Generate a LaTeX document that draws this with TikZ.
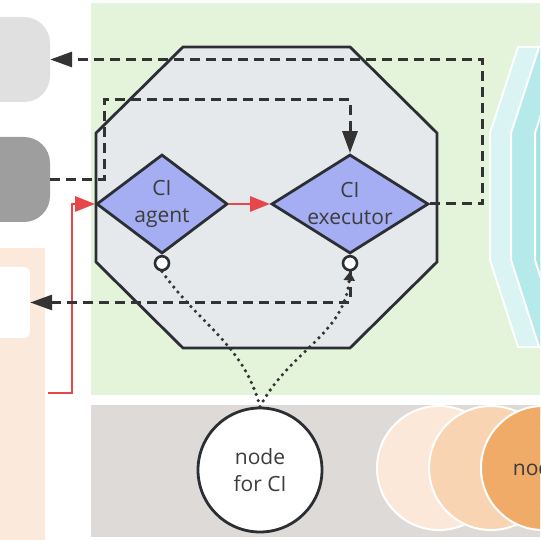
\documentclass[tikz,border=0pt]{standalone}
\usepackage{fontspec}
\setmainfont{Open Sans}
\usetikzlibrary{shapes.geometric,arrows.meta}
\definecolor{leafgreen}{HTML}{E3F4DA}
\definecolor{stone}{HTML}{DEDAD8}
\definecolor{sand}{HTML}{FBE9DB}
\definecolor{mist}{HTML}{E0E0E0}
\definecolor{ash}{HTML}{9E9E9E}
\definecolor{slate}{HTML}{E6E9EC}
\definecolor{edgegray}{HTML}{2B2F33}
\definecolor{lilac}{HTML}{A5AEF2}
\definecolor{alarmred}{HTML}{E8474A}
\definecolor{inkdark}{HTML}{333333}
\definecolor{inkgray}{HTML}{3C3C3C}
\definecolor{aqua1}{HTML}{DAF3F3}
\definecolor{aqua2}{HTML}{B5E9EA}
\definecolor{aqua3}{HTML}{A3E2E5}
\definecolor{peach1}{HTML}{FBE8D8}
\definecolor{peach2}{HTML}{F8D4B3}
\definecolor{peach3}{HTML}{F0AB69}
\begin{document}
\begin{tikzpicture}[
        x=1pt, y=1pt,
        font=\fontsize{21}{27}\selectfont,
        decision/.style={diamond, draw=edgegray, line width=2.8pt, fill=lilac, minimum height=99pt, inner sep=0pt},
        port/.style={circle, draw=edgegray, line width=2.6pt, fill=white, minimum size=14pt, inner sep=0pt, anchor=north},
        tab/.style={rectangle, rounded corners=26pt, minimum width=80pt, minimum height=85pt},
        ball/.style={circle, draw=white, line width=2pt, minimum size=124pt, inner sep=0pt, text=inkgray},
        flow/.style={draw=alarmred, line width=2.8pt, -{Triangle[length=20pt,width=15pt]}},
        signal/.style={draw=inkdark, line width=3pt, dash pattern=on 10pt off 6pt, -{Triangle[length=22pt,width=15pt]}},
        trace/.style={draw=inkdark, line width=3.6pt, line cap=round, dash pattern=on 0pt off 6.5pt},
        ]
    \useasboundingbox (0,0) rectangle (540,540);
    \clip (0,0) rectangle (540,540);
    \fill[leafgreen] (91,145) rectangle (560,537);
    \fill[stone] (91,3) rectangle (560,135);
    \fill[sand] (-10,-10) rectangle (45,292);
    \draw[edgegray, fill=slate, line width=2.8pt] (96,407) -- (183,493) -- (350,493) -- (437,407)
        -- (437,278) -- (350,192) -- (183,192) -- (96,278) -- cycle;
    \foreach \dx/\c in {0/aqua1, 21/aqua2, 45/aqua3}
        \draw[white, line width=2pt, fill=\c] (518+\dx,493) -- (490+\dx,407) -- (490+\dx,280)
            -- (518+\dx,193) -- (620,193) -- (620,493) -- cycle;

    \node (clientA) [tab, fill=mist] at (10,480.5) {};
    \node (clientB) [tab, fill=ash] at (10,360.5) {};
    \node (clientBtext) [anchor=base east, text=inkdark] at (3.5,353) {t};
    \node (report) [rectangle, rounded corners=6pt, fill=white, minimum width=40pt, minimum height=71pt] at (10,237.5) {};
    \node (reporttext) [anchor=base east, text=inkdark, font=\fontsize{16}{20}\selectfont] at (3.5,229) {t};

    \node (agent) [decision, minimum width=131pt, label={[align=center, text=inkgray]center:{CI\\agent}}] at (162,336) {};
    \node (executor) [decision, minimum width=157pt, label={[align=center, text=inkgray]center:{CI\\executor}}] at (350,336) {};
    \node (agentport) [port] at (agent.south) {};
    \node (execport) [port] at (executor.south) {};

    \node (ci) [circle, draw=edgegray, line width=2.8pt, fill=white, minimum size=124pt, inner sep=0pt,
        align=center, text=inkgray] at (260,70) {node\\for CI};
    \node (pool1) [ball, fill=peach1] at (439,72) {};
    \node (pool2) [ball, fill=peach2] at (491,72) {};
    \node (pool3) [ball, fill=peach3] at (543,72) {nodes};

    \coordinate (redin) at (48,147);
    \draw[flow] (redin) -- ++(24,0) |- (agent.west);
    \draw[flow] (agent.east) -- (executor.west);
    \draw[signal] (executor.east) -- ++(53,0) |- (clientA.east);
    \draw[signal] (clientB.east) -| (104,440) -| (executor.north);
    \draw[signal] (execport.south) |- (report.east);
    \draw[trace] (agentport.south) to[out=-55,in=105] (ci.north);
    \draw[trace, -{Triangle[length=9pt,width=11pt]}] (ci.north) to[out=62,in=-95] (execport.south);
\end{tikzpicture}
\end{document}
